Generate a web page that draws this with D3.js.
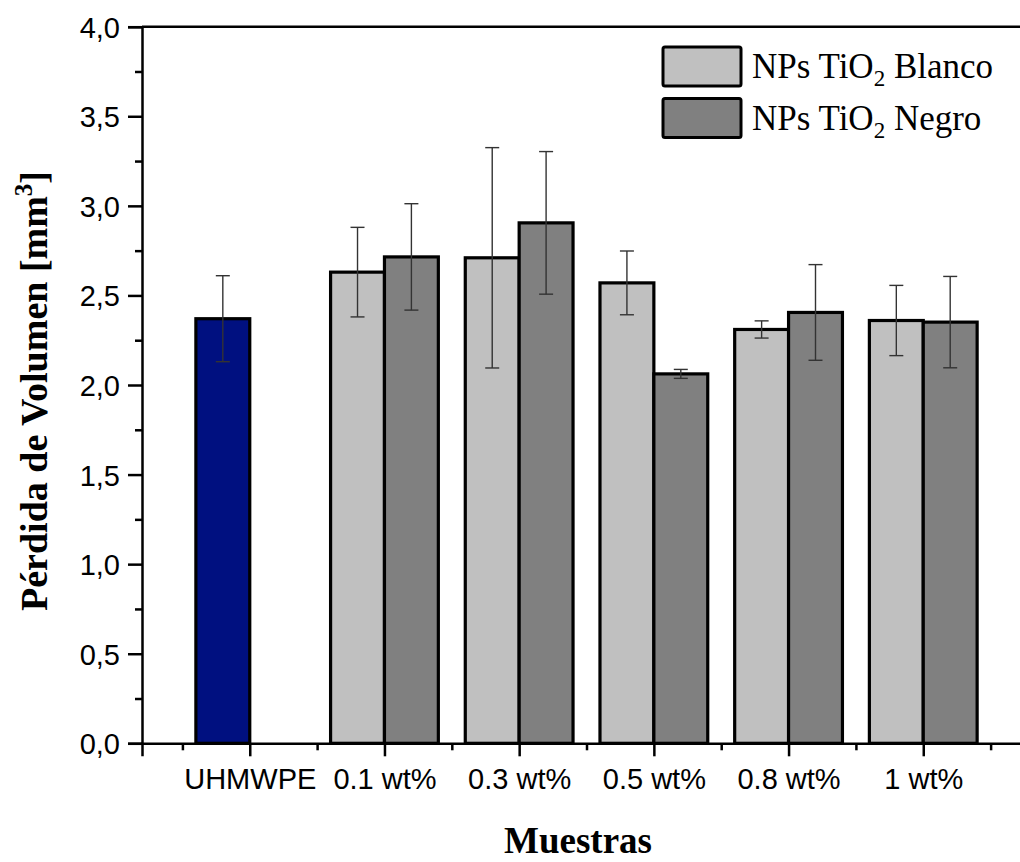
<!DOCTYPE html>
<html>
<head>
  <script src="https://d3js.org/d3.v7.min.js"></script>
  <style>
    body { margin: 0; background: #fff; }
    svg { display: block; }
  </style>
</head>
<body>
<div id="chart"></div>
<script>
  // values
  var categories = ["UHMWPE", "0.1 wt%", "0.3 wt%", "0.5 wt%", "0.8 wt%", "1 wt%"];
  var uhmwpeValue = 2.37;
  var uhmwpeErr = 0.24;
  var blanco = [2.63, 2.71, 2.57, 2.31, 2.36];
  var blancoErr = [0.25, 0.615, 0.178, 0.048, 0.196];
  var negro = [2.715, 2.905, 2.062, 2.405, 2.351];
  var negroErr = [0.297, 0.398, 0.025, 0.267, 0.255];
  var yTicks = [0, 0.5, 1, 1.5, 2, 2.5, 3, 3.5, 4];
  var seriesNames = ["NPs TiO", "NPs TiO"];
  var seriesSuffix = [" Blanco", " Negro"];

  var width = 1020, height = 862;
  var plotLeft = 142, plotTop = 26.7, plotBottom = 743.3;
  var unit = 134.7;

  var svg = d3.select("#chart").append("svg")
    .attr("width", width)
    .attr("height", height);

  var x = d3.scaleLinear()
    .domain([0.2, 6.8])
    .range([plotLeft, plotLeft + 6.6 * unit]);

  var y = d3.scaleLinear()
    .domain([0, 4])
    .range([plotBottom, plotTop]);

  var barW = 0.4;

  // build bar records
  var bars = [];
  bars.push({pos: 1, slot: -1, v: uhmwpeValue, e: uhmwpeErr, fill: "#001080"});
  blanco.forEach(function(v, i) {
    bars.push({pos: i + 2, slot: -1, v: v, e: blancoErr[i], fill: "#c0c0c0"});
  });
  negro.forEach(function(v, i) {
    bars.push({pos: i + 2, slot: 0, v: v, e: negroErr[i], fill: "#808080"});
  });

  svg.append("g").selectAll("rect")
    .data(bars)
    .enter().append("rect")
    .attr("x", d => x(d.pos + d.slot * barW))
    .attr("y", d => y(d.v))
    .attr("width", d => x(d.pos + barW) - x(d.pos))
    .attr("height", d => y(0) - y(d.v))
    .attr("fill", d => d.fill)
    .attr("stroke", "#000")
    .attr("stroke-width", 3.2);

  // error bars
  var eb = svg.append("g")
    .attr("stroke", "#333")
    .attr("stroke-width", 1.4);
  bars.forEach(function(d) {
    var cx = x(d.pos + d.slot * barW + barW / 2);
    eb.append("line")
      .attr("x1", cx).attr("x2", cx)
      .attr("y1", y(d.v - d.e)).attr("y2", y(d.v + d.e));
    eb.append("line")
      .attr("x1", cx - 7).attr("x2", cx + 7)
      .attr("y1", y(d.v + d.e)).attr("y2", y(d.v + d.e));
    eb.append("line")
      .attr("x1", cx - 7).attr("x2", cx + 7)
      .attr("y1", y(d.v - d.e)).attr("y2", y(d.v - d.e));
  });

  // frame top line
  svg.append("line")
    .attr("x1", plotLeft).attr("x2", x(6.8))
    .attr("y1", plotTop).attr("y2", plotTop)
    .attr("stroke", "#000")
    .attr("stroke-width", 2.5);

  // y axis
  var yAxis = svg.append("g")
    .attr("transform", "translate(" + plotLeft + ",0)")
    .call(d3.axisLeft(y).tickValues(yTicks).tickSize(14).tickPadding(8)
      .tickFormat(d => d3.format(".1f")(d).replace(".", ",")));
  svg.append("g")
    .attr("transform", "translate(" + plotLeft + ",0)")
    .call(d3.axisLeft(y).tickValues(d3.range(0.25, 4, 0.5)).tickSize(7).tickFormat(""))
    .select(".domain").remove();

  // x axis
  var xAxis = svg.append("g")
    .attr("transform", "translate(0," + plotBottom + ")")
    .call(d3.axisBottom(x).tickValues([1, 2, 3, 4, 5, 6]).tickSize(13).tickPadding(12)
      .tickFormat((d, i) => categories[i]));
  svg.append("g")
    .attr("transform", "translate(0," + plotBottom + ")")
    .call(d3.axisBottom(x).tickValues([0.5, 1.5, 2.5, 3.5, 4.5, 5.5, 6.5]).tickSize(7).tickFormat(""))
    .select(".domain").remove();

  svg.selectAll(".domain").attr("stroke-width", 2.5);
  svg.selectAll(".tick line").attr("stroke-width", 2.5);
  svg.selectAll(".tick text")
    .attr("fill", "#000")
    .style("font-family", "'Liberation Sans', Arial, sans-serif")
    .style("font-size", "29px");
  yAxis.selectAll(".tick text").attr("dy", "0.36em");

  // axis titles
  svg.append("text")
    .attr("x", 578)
    .attr("y", 853)
    .attr("text-anchor", "middle")
    .style("font-family", "'Liberation Serif', 'Times New Roman', serif")
    .style("font-weight", "bold")
    .style("font-size", "37px")
    .text("Muestras");

  var yt = svg.append("text")
    .attr("transform", "translate(47,391) rotate(-90)")
    .attr("text-anchor", "middle")
    .style("font-family", "'Liberation Serif', 'Times New Roman', serif")
    .style("font-weight", "bold")
    .style("font-size", "38px");
  yt.append("tspan").text("Pérdida de Volumen [mm");
  yt.append("tspan").attr("dy", -15).style("font-size", "25px").text("3");
  yt.append("tspan").attr("dy", 15).text("]");

  // legend
  var legFills = ["#c0c0c0", "#808080"];
  var leg = svg.append("g");
  legFills.forEach(function(f, i) {
    var gy = 47 + i * 51.5;
    leg.append("rect")
      .attr("x", 663).attr("y", gy)
      .attr("width", 78).attr("height", 39)
      .attr("rx", 2)
      .attr("fill", f)
      .attr("stroke", "#000")
      .attr("stroke-width", 3);
    var t = leg.append("text")
      .attr("x", 752).attr("y", gy + 31)
      .style("font-family", "'Liberation Serif', 'Times New Roman', serif")
      .style("font-size", "35px")
      .attr("fill", "#000");
    t.append("tspan").text(seriesNames[i]);
    t.append("tspan").attr("dy", 8).style("font-size", "23px").text("2");
    t.append("tspan").attr("dy", -8).text(seriesSuffix[i]);
  });
</script>
</body>
</html>
